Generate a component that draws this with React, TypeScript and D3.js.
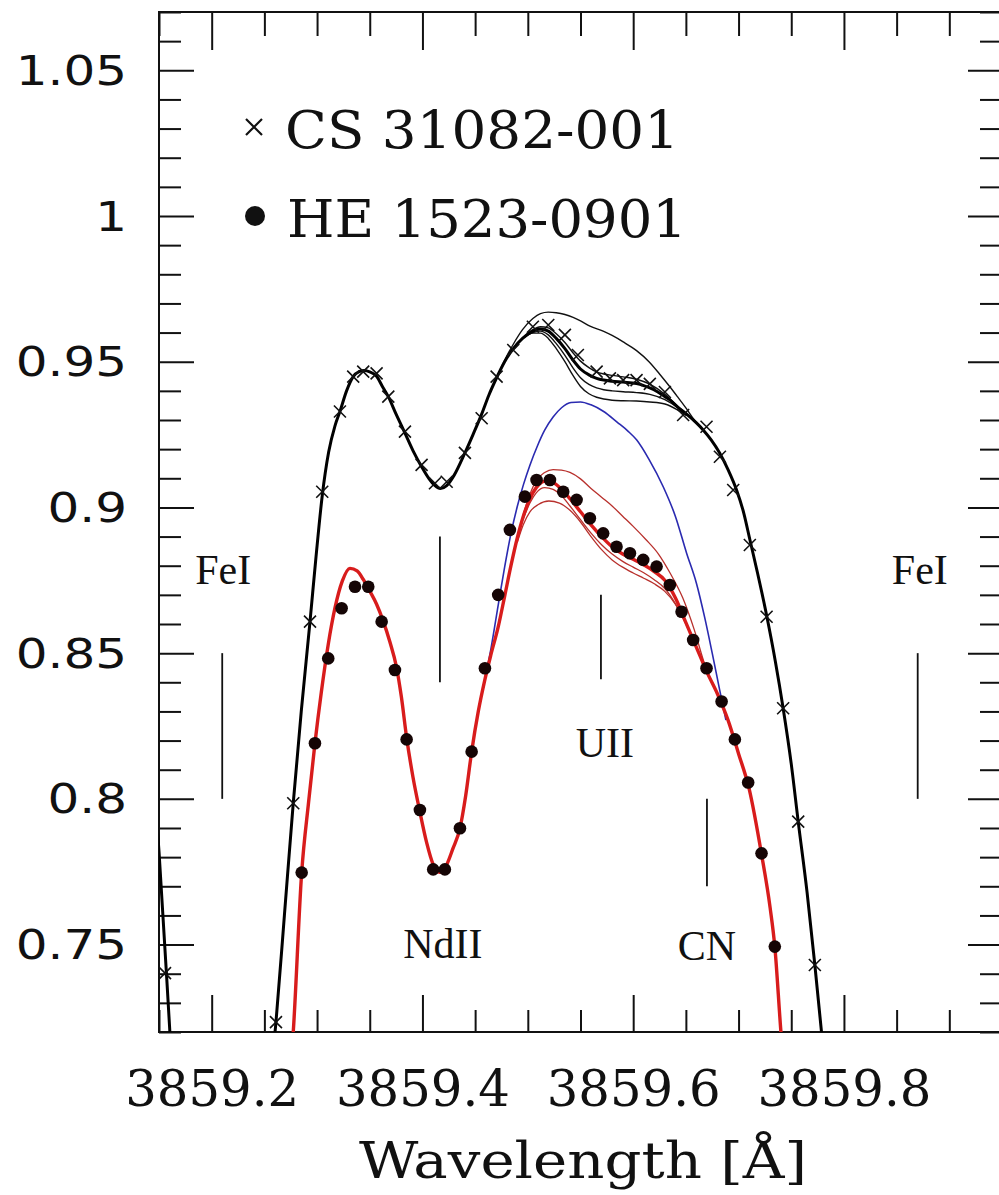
import React, { useRef, useEffect } from 'react';
import * as d3 from 'd3';

type Pt = [number, number];

// CS 31082-001 observed (crosses)
const csObserved: Pt[] = [
  [3859.1557, 0.7402], [3859.2610, 0.7234], [3859.2774, 0.7985], [3859.2933, 0.8608],
  [3859.3049, 0.9054], [3859.3217, 0.9329], [3859.3343, 0.9449], [3859.3438, 0.9466],
  [3859.3565, 0.9460], [3859.3676, 0.9380], [3859.3834, 0.9260], [3859.3992, 0.9146],
  [3859.4119, 0.9083], [3859.4230, 0.9088], [3859.4403, 0.9187], [3859.4562, 0.9306],
  [3859.4704, 0.9449], [3859.4862, 0.9540], [3859.5048, 0.9620], [3859.5194, 0.9626],
  [3859.5352, 0.9592], [3859.5475, 0.9523], [3859.5653, 0.9466], [3859.5779, 0.9443],
  [3859.5905, 0.9437], [3859.6032, 0.9437], [3859.6158, 0.9424], [3859.6301, 0.9396],
  [3859.6474, 0.9317], [3859.6696, 0.9277], [3859.6823, 0.9174], [3859.6949, 0.9060],
  [3859.7107, 0.8871], [3859.7266, 0.8625], [3859.7423, 0.8311], [3859.7566, 0.7922],
  [3859.7724, 0.7430],
];

// CS 31082-001 best synthetic fit
const csBestFit: Pt[] = [
  [3859.140, 0.830], [3859.150, 0.782], [3859.160, 0.722], [3859.170, 0.660],
  [3859.250, 0.660], [3859.255, 0.700], [3859.261, 0.7234], [3859.269, 0.760],
  [3859.2774, 0.7985], [3859.285, 0.830], [3859.2933, 0.8608], [3859.299, 0.883],
  [3859.3049, 0.904], [3859.311, 0.919], [3859.317, 0.928], [3859.3217, 0.9329],
  [3859.328, 0.940], [3859.3343, 0.9449], [3859.340, 0.9466], [3859.345, 0.9470],
  [3859.350, 0.9465], [3859.3565, 0.9450], [3859.362, 0.9415], [3859.3676, 0.9380],
  [3859.375, 0.9320], [3859.3834, 0.9255], [3859.391, 0.9195], [3859.3992, 0.9140],
  [3859.406, 0.9100], [3859.4119, 0.9075], [3859.417, 0.9065], [3859.423, 0.9075],
  [3859.430, 0.9110], [3859.4403, 0.9187], [3859.448, 0.9250], [3859.4562, 0.9320],
  [3859.463, 0.9385], [3859.4704, 0.9445], [3859.478, 0.9500], [3859.4862, 0.9545],
  [3859.495, 0.9580], [3859.5048, 0.9605], [3859.512, 0.9612], [3859.5194, 0.9605],
  [3859.527, 0.9580], [3859.5352, 0.9545], [3859.543, 0.9505], [3859.550, 0.9475],
  [3859.558, 0.9455], [3859.5653, 0.9443], [3859.572, 0.9437], [3859.580, 0.9433],
  [3859.5905, 0.9430], [3859.6032, 0.9425], [3859.610, 0.9418], [3859.6158, 0.9410],
  [3859.623, 0.9397], [3859.6301, 0.9380], [3859.6348, 0.9369], [3859.642, 0.9345],
  [3859.6507, 0.9320], [3859.660, 0.9290], [3859.6664, 0.9266], [3859.674, 0.9232],
  [3859.6822, 0.9186], [3859.690, 0.9130], [3859.6981, 0.9060], [3859.705, 0.8980],
  [3859.7107, 0.8890], [3859.718, 0.8775], [3859.7266, 0.8630], [3859.735, 0.8470],
  [3859.7423, 0.8311], [3859.750, 0.8120], [3859.7566, 0.7922], [3859.765, 0.7680],
  [3859.7724, 0.7430], [3859.7787, 0.7200], [3859.785, 0.6950],
];

// CS 31082-001 synthetic variants (thin black)
const csFitHigh: Pt[] = [
  [3859.4704, 0.9445], [3859.478, 0.9505], [3859.4862, 0.9560], [3859.495, 0.9610],
  [3859.5048, 0.9648], [3859.512, 0.9665], [3859.5194, 0.9670], [3859.527, 0.9668],
  [3859.5352, 0.9662], [3859.543, 0.9652], [3859.550, 0.9640], [3859.559, 0.9622],
  [3859.5715, 0.9605], [3859.580, 0.9590], [3859.5905, 0.9568], [3859.6032, 0.9538],
  [3859.615, 0.9500], [3859.625, 0.9458], [3859.6348, 0.9414], [3859.642, 0.9380],
  [3859.6507, 0.9338], [3859.658, 0.9300], [3859.6664, 0.9266],
];
const csFitUpper: Pt[] = [
  [3859.4950, 0.9580], [3859.5048, 0.9610], [3859.512, 0.9620], [3859.5194, 0.9616],
  [3859.527, 0.9596], [3859.5352, 0.9566], [3859.543, 0.9530], [3859.550, 0.9502],
  [3859.558, 0.9480], [3859.5653, 0.9465], [3859.572, 0.9458], [3859.580, 0.9453],
  [3859.5905, 0.9448], [3859.6032, 0.9440], [3859.6158, 0.9423], [3859.6301, 0.9388],
  [3859.642, 0.9348], [3859.6507, 0.9322],
];
const csFitLower: Pt[] = [
  [3859.4950, 0.9580], [3859.5048, 0.9600], [3859.512, 0.9605], [3859.5194, 0.9592],
  [3859.527, 0.9562], [3859.5352, 0.9522], [3859.543, 0.9478], [3859.550, 0.9445],
  [3859.558, 0.9422], [3859.5653, 0.9410], [3859.572, 0.9404], [3859.580, 0.9400],
  [3859.5905, 0.9397], [3859.6032, 0.9394], [3859.6158, 0.9388], [3859.6301, 0.9370],
  [3859.642, 0.9343], [3859.6507, 0.9318],
];
const csFitLowest: Pt[] = [
  [3859.4950, 0.9580], [3859.5048, 0.9598], [3859.512, 0.9598], [3859.5194, 0.9580],
  [3859.527, 0.9545], [3859.5352, 0.9500], [3859.543, 0.9452], [3859.550, 0.9415],
  [3859.558, 0.9390], [3859.5653, 0.9378], [3859.572, 0.9372], [3859.580, 0.9368],
  [3859.5905, 0.9366], [3859.6032, 0.9365], [3859.6158, 0.9362], [3859.6301, 0.9355],
  [3859.642, 0.9335], [3859.6507, 0.9315],
];

// HE 1523-0901 observed (dots)
const heObserved: Pt[] = [
  [3859.2854, 0.7747], [3859.2980, 0.8191], [3859.3106, 0.8482], [3859.3233, 0.8654],
  [3859.3360, 0.8728], [3859.3486, 0.8728], [3859.3613, 0.8608], [3859.3739, 0.8442],
  [3859.3850, 0.8204], [3859.3976, 0.7962], [3859.4102, 0.7758], [3859.4213, 0.7758],
  [3859.4356, 0.7899], [3859.4467, 0.8162], [3859.4593, 0.8448], [3859.4719, 0.8700],
  [3859.4830, 0.8923], [3859.4972, 0.9037], [3859.5083, 0.9094], [3859.5210, 0.9094],
  [3859.5336, 0.9054], [3859.5463, 0.9026], [3859.5589, 0.8963], [3859.5715, 0.8911],
  [3859.5842, 0.8865], [3859.5969, 0.8843], [3859.6095, 0.8820], [3859.6222, 0.8797],
  [3859.6348, 0.8734], [3859.6459, 0.8642], [3859.6569, 0.8545], [3859.6696, 0.8448],
  [3859.6839, 0.8334], [3859.6965, 0.8204], [3859.7091, 0.8056], [3859.7218, 0.7813],
  [3859.7344, 0.7493],
];

// HE 1523-0901 best synthetic fit (thick red)
const heBestFit: Pt[] = [
  [3859.2700, 0.6900], [3859.2774, 0.7200], [3859.2854, 0.7747], [3859.2920, 0.7990],
  [3859.2980, 0.8191], [3859.3040, 0.8365], [3859.3106, 0.8530], [3859.3170, 0.8655],
  [3859.3240, 0.8748], [3859.3312, 0.8791], [3859.3380, 0.8782], [3859.3440, 0.8752],
  [3859.3502, 0.8712], [3859.3565, 0.8668], [3859.3628, 0.8610], [3859.3690, 0.8540],
  [3859.3755, 0.8450], [3859.3800, 0.8350], [3859.3850, 0.8210], [3859.3910, 0.8075],
  [3859.3976, 0.7955], [3859.4040, 0.7850], [3859.4102, 0.7775], [3859.4160, 0.7748],
  [3859.4213, 0.7762], [3859.4290, 0.7830], [3859.4356, 0.7899], [3859.4410, 0.8010],
  [3859.4467, 0.8162], [3859.4530, 0.8300], [3859.4590, 0.8405], [3859.4650, 0.8495],
  [3859.4719, 0.8590], [3859.4780, 0.8695], [3859.4840, 0.8800], [3859.4900, 0.8895],
  [3859.4956, 0.8968], [3859.5020, 0.9030], [3859.5080, 0.9068], [3859.5160, 0.9090],
  [3859.5240, 0.9085], [3859.5320, 0.9062], [3859.5400, 0.9030], [3859.5500, 0.8985],
  [3859.5600, 0.8940], [3859.5700, 0.8900], [3859.5800, 0.8865], [3859.5900, 0.8840],
  [3859.6000, 0.8822], [3859.6100, 0.8803], [3859.6200, 0.8780], [3859.6300, 0.8750],
  [3859.6400, 0.8690], [3859.6500, 0.8605], [3859.6600, 0.8520], [3859.6700, 0.8435],
  [3859.6800, 0.8360], [3859.6900, 0.8270], [3859.7000, 0.8155], [3859.7100, 0.8035],
  [3859.7218, 0.7810], [3859.7300, 0.7625], [3859.7344, 0.7493], [3859.7400, 0.7210],
  [3859.7460, 0.6950],
];

// HE 1523-0901 synthetic variants (thin red)
const heFitUpper: Pt[] = [
  [3859.4956, 0.8975], [3859.5020, 0.9045], [3859.5080, 0.9092], [3859.5160, 0.9120],
  [3859.5240, 0.9130], [3859.5320, 0.9128], [3859.5400, 0.9120], [3859.5500, 0.9098],
  [3859.5600, 0.9065], [3859.5700, 0.9035], [3859.5800, 0.9005], [3859.5900, 0.8970],
  [3859.6000, 0.8935], [3859.6120, 0.8890], [3859.6240, 0.8840], [3859.6350, 0.8775],
  [3859.6470, 0.8690], [3859.6580, 0.8580], [3859.6680, 0.8460], [3859.6780, 0.8375],
];
const heFitLower: Pt[] = [
  [3859.4956, 0.8960], [3859.5020, 0.9015], [3859.5080, 0.9050], [3859.5160, 0.9068],
  [3859.5240, 0.9062], [3859.5320, 0.9040], [3859.5400, 0.9005], [3859.5500, 0.8958],
  [3859.5600, 0.8912], [3859.5700, 0.8872], [3859.5800, 0.8840], [3859.5900, 0.8815],
  [3859.6000, 0.8795], [3859.6100, 0.8776], [3859.6200, 0.8752], [3859.6300, 0.8722],
  [3859.6400, 0.8670], [3859.6500, 0.8600], [3859.6600, 0.8520],
];
const heFitLowest: Pt[] = [
  [3859.4900, 0.8880], [3859.4956, 0.8940], [3859.5020, 0.8985], [3859.5100, 0.9010],
  [3859.5200, 0.9022], [3859.5300, 0.9015], [3859.5400, 0.8990], [3859.5500, 0.8950],
  [3859.5600, 0.8900], [3859.5700, 0.8855], [3859.5800, 0.8820], [3859.5900, 0.8795],
  [3859.6000, 0.8775], [3859.6100, 0.8757], [3859.6200, 0.8738], [3859.6300, 0.8712],
  [3859.6400, 0.8668], [3859.6500, 0.8602], [3859.6600, 0.8520],
];

// HE 1523-0901 synthetic without uranium (blue)
const heNoUranium: Pt[] = [
  [3859.4530, 0.8300], [3859.4590, 0.8405], [3859.4650, 0.8515], [3859.4719, 0.8665],
  [3859.4780, 0.8795], [3859.4840, 0.8910], [3859.4900, 0.9003], [3859.4960, 0.9080],
  [3859.5020, 0.9145], [3859.5090, 0.9210], [3859.5160, 0.9265], [3859.5240, 0.9310],
  [3859.5320, 0.9342], [3859.5410, 0.9360], [3859.5500, 0.9362], [3859.5600, 0.9352],
  [3859.5716, 0.9330], [3859.5850, 0.9292], [3859.5950, 0.9262], [3859.6032, 0.9232],
  [3859.6150, 0.9165], [3859.6285, 0.9071], [3859.6400, 0.8970], [3859.6507, 0.8843],
  [3859.6600, 0.8740], [3859.6680, 0.8620], [3859.6750, 0.8500], [3859.6820, 0.8375],
  [3859.6880, 0.8270],
];

// line identifications
const lineIds = [
  { label: 'FeI', wl: 3859.210, lo: 0.800, hi: 0.850, labelWl: 3859.211, labelFlux: 0.8737 },
  { label: 'NdII', wl: 3859.4166, lo: 0.840, hi: 0.890, labelWl: 3859.4194, labelFlux: 0.7454 },
  { label: 'UII', wl: 3859.5694, lo: 0.841, hi: 0.870, labelWl: 3859.5732, labelFlux: 0.8144 },
  { label: 'CN', wl: 3859.670, lo: 0.770, hi: 0.800, labelWl: 3859.6699, labelFlux: 0.7447 },
  { label: 'FeI', wl: 3859.870, lo: 0.800, hi: 0.850, labelWl: 3859.872, labelFlux: 0.8737 },
];

const xDomain = [3859.15, 3859.95];
const yDomain = [0.72, 1.07];

const slabFont = '"DejaVu Serif", "Liberation Serif", serif';

const App = () => {
  const svgRef = useRef<SVGSVGElement>(null);

  useEffect(() => {
    const width = 999;
    const height = 1195;
    const left = 159, right = 1002, top = 12, bottom = 1032;

    const svg = d3.select(svgRef.current)
      .attr('width', width)
      .attr('height', height);
    svg.selectAll('*').remove();

    const x = d3.scaleLinear().domain(xDomain).range([left, right]);
    const y = d3.scaleLinear().domain(yDomain).range([bottom, top]);

    const xAll = x.ticks(16);
    const xMajor = xAll.filter(d => Math.abs(d * 5 - Math.round(d * 5)) < 1e-6);
    const xMinor = xAll.filter(d => !xMajor.includes(d));
    const yAll = y.ticks(35);
    const yMajor = yAll.filter(d => Math.abs(d * 20 - Math.round(d * 20)) < 1e-6);
    const yMinor = yAll.filter(d => !yMajor.includes(d));

    svg.append('clipPath').attr('id', 'plot-clip')
      .append('rect')
      .attr('x', left).attr('y', top)
      .attr('width', right - left).attr('height', bottom - top);

    const styleAxis = (g: any) => {
      g.attr('color', '#111');
      g.select('.domain').remove();
      g.selectAll('line').attr('stroke-width', 2);
    };

    // bottom axis
    svg.append('g').attr('transform', `translate(0,${bottom})`)
      .call(d3.axisBottom(x).tickValues(xMinor).tickSize(-22).tickFormat(() => ''))
      .call(styleAxis);
    svg.append('g').attr('transform', `translate(0,${bottom})`)
      .call(d3.axisBottom(x).tickValues(xMajor).tickSize(-37).tickFormat(d3.format('.1f')))
      .call(styleAxis)
      .call((g: any) => g.selectAll('text')
        .attr('y', 74)
        .attr('dy', null)
        .attr('font-family', slabFont)
        .attr('font-size', 51)
        .attr('textLength', 174)
        .attr('lengthAdjust', 'spacingAndGlyphs'));

    // top axis
    svg.append('g').attr('transform', `translate(0,${top})`)
      .call(d3.axisTop(x).tickValues(xMinor).tickSize(-24).tickFormat(() => ''))
      .call(styleAxis);
    svg.append('g').attr('transform', `translate(0,${top})`)
      .call(d3.axisTop(x).tickValues(xMajor).tickSize(-38).tickFormat(() => ''))
      .call(styleAxis);

    // left axis
    svg.append('g').attr('transform', `translate(${left},0)`)
      .call(d3.axisLeft(y).tickValues(yMinor).tickSize(-22).tickFormat(() => ''))
      .call(styleAxis);
    svg.append('g').attr('transform', `translate(${left},0)`)
      .call(d3.axisLeft(y).tickValues(yMajor).tickSize(-35).tickFormat(d3.format('~g')))
      .call(styleAxis)
      .call((g: any) => g.selectAll('text')
        .attr('x', 0)
        .attr('dy', null)
        .attr('text-anchor', 'end')
        .attr('transform', 'translate(-32,14) scale(1.25,1)')
        .attr('font-family', '"DejaVu Sans", sans-serif')
        .attr('font-size', 40));

    // right axis
    svg.append('g').attr('transform', `translate(${right},0)`)
      .call(d3.axisRight(y).tickValues(yMinor).tickSize(-22).tickFormat(() => ''))
      .call(styleAxis);
    svg.append('g').attr('transform', `translate(${right},0)`)
      .call(d3.axisRight(y).tickValues(yMajor).tickSize(-34).tickFormat(() => ''))
      .call(styleAxis);

    // frame
    svg.append('rect')
      .attr('x', left).attr('y', top)
      .attr('width', right - left).attr('height', bottom - top)
      .attr('fill', 'none').attr('stroke', '#111').attr('stroke-width', 2);

    const plot = svg.append('g').attr('clip-path', 'url(#plot-clip)');

    const line = d3.line<Pt>()
      .x(d => x(d[0]))
      .y(d => y(d[1]))
      .curve(d3.curveMonotoneX);

    const drawLine = (data: Pt[], color: string, w: number) => {
      plot.append('path')
        .attr('d', line(data))
        .attr('fill', 'none')
        .attr('stroke', color)
        .attr('stroke-width', w)
        .attr('stroke-linejoin', 'round');
    };

    // CS 31082-001
    [csFitHigh, csFitUpper, csFitLower, csFitLowest].forEach(s => drawLine(s, '#111', 1.4));
    drawLine(csBestFit, '#000', 3);
    plot.append('g').selectAll('path')
      .data(csObserved)
      .enter()
      .append('path')
      .attr('transform', d => `translate(${x(d[0])},${y(d[1])})`)
      .attr('d', 'M-6,-6L6,6M-6,6L6,-6')
      .attr('stroke', '#111')
      .attr('stroke-width', 1.6)
      .attr('fill', 'none');

    // HE 1523-0901
    drawLine(heNoUranium, '#2a2ab0', 1.6);
    [heFitUpper, heFitLower, heFitLowest].forEach(s => drawLine(s, '#b8302c', 1.3));
    drawLine(heBestFit, '#d81c1c', 3.4);
    plot.append('g').selectAll('circle')
      .data(heObserved)
      .enter()
      .append('circle')
      .attr('cx', d => x(d[0]))
      .attr('cy', d => y(d[1]))
      .attr('r', 6.3)
      .attr('fill', '#150505');

    // line identifications
    const ids = svg.append('g');
    ids.selectAll('line')
      .data(lineIds)
      .enter()
      .append('line')
      .attr('x1', d => x(d.wl)).attr('x2', d => x(d.wl))
      .attr('y1', d => y(d.lo)).attr('y2', d => y(d.hi))
      .attr('stroke', '#111').attr('stroke-width', 1.8);
    ids.selectAll('text')
      .data(lineIds)
      .enter()
      .append('text')
      .attr('x', d => x(d.labelWl))
      .attr('y', d => y(d.labelFlux))
      .attr('text-anchor', 'middle')
      .attr('font-family', '"Liberation Serif", "DejaVu Serif", serif')
      .attr('font-size', 42)
      .attr('fill', '#111')
      .text(d => d.label);

    // legend
    const legend = svg.append('g')
      .attr('font-family', slabFont)
      .attr('font-size', 52)
      .attr('fill', '#111');
    legend.append('path')
      .attr('transform', 'translate(254,127)')
      .attr('d', 'M-8,-8L8,8M-8,8L8,-8')
      .attr('stroke', '#111').attr('stroke-width', 2.2);
    legend.append('text')
      .attr('x', 285).attr('y', 148)
      .attr('textLength', 394).attr('lengthAdjust', 'spacingAndGlyphs')
      .text('CS 31082-001');
    legend.append('circle')
      .attr('cx', 255).attr('cy', 216).attr('r', 10).attr('fill', '#111');
    legend.append('text')
      .attr('x', 287).attr('y', 237)
      .attr('textLength', 400).attr('lengthAdjust', 'spacingAndGlyphs')
      .text('HE 1523-0901');

    // axis title
    svg.append('text')
      .attr('x', 583)
      .attr('y', 1178)
      .attr('text-anchor', 'middle')
      .attr('font-family', slabFont)
      .attr('font-size', 50)
      .attr('textLength', 448)
      .attr('lengthAdjust', 'spacingAndGlyphs')
      .attr('fill', '#111')
      .text('Wavelength [Å]');
  }, []);

  return (
    <svg
      ref={svgRef}
      style={{ position: 'absolute', left: 0, top: 0, background: '#fff', display: 'block' }}
    />
  );
};

export default App;
